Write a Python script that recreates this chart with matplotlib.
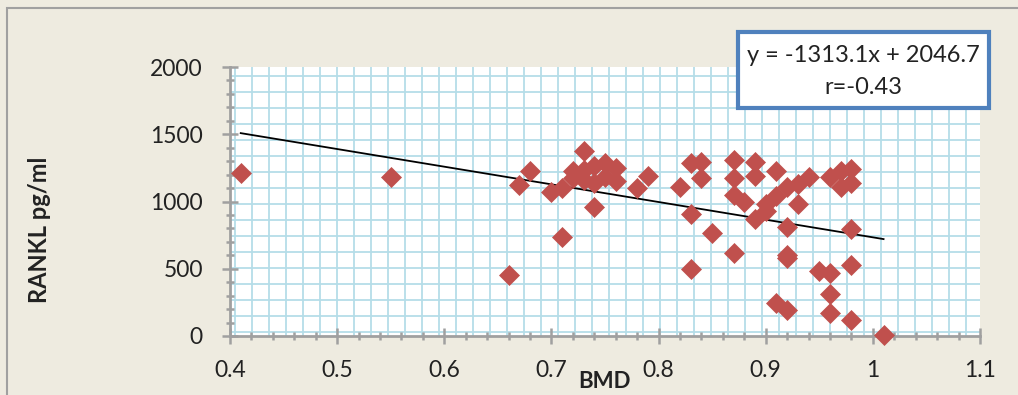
import numpy as np
import matplotlib.pyplot as plt
from matplotlib.patches import Rectangle
from matplotlib.ticker import MultipleLocator

# ================= 資料 =================
bmd = [0.41, 0.55, 0.66, 0.67, 0.68, 0.70, 0.71, 0.71, 0.72, 0.72,
       0.73, 0.73, 0.73, 0.74, 0.74, 0.74, 0.75, 0.75, 0.76, 0.76,
       0.78, 0.79, 0.82, 0.83, 0.83, 0.83, 0.84, 0.84, 0.85, 0.87,
       0.87, 0.87, 0.87, 0.88, 0.89, 0.89, 0.89, 0.90, 0.90, 0.91,
       0.91, 0.91, 0.92, 0.92, 0.92, 0.92, 0.92, 0.93, 0.93, 0.94,
       0.95, 0.96, 0.96, 0.96, 0.96, 0.97, 0.97, 0.98, 0.98, 0.98,
       0.98, 0.98, 1.01]
rankl = [1210, 1180, 450, 1120, 1230, 1070, 1100, 735, 1225, 1175,
         1375, 1235, 1160, 1265, 1135, 960, 1285, 1185, 1250, 1150,
         1100, 1190, 1105, 1285, 905, 500, 1290, 1175, 765, 1305,
         1175, 1045, 615, 995, 1295, 1190, 870, 930, 985, 1225,
         1040, 245, 1110, 810, 580, 600, 195, 1130, 980, 1185,
         485, 1185, 465, 315, 170, 1230, 1110, 1245, 1140, 795,
         525, 120, 10]

slope, intercept = -1313.1, 2046.7
fit_x = [0.41, 1.01]
eq_text = "y = -1313.1x + 2046.7"
r_text = "r=-0.43"

plt.rcParams['font.family'] = ['Lato', 'DejaVu Sans']

W, H = 1018, 395
fig = plt.figure(figsize=(W / 100, H / 100), dpi=100)
fig.patch.set_facecolor('#EEEBE0')
fig.patches.append(Rectangle((7 / W, -0.1), 1.2, (395 - 8) / H + 0.1,
                             transform=fig.transFigure, fill=False,
                             edgecolor='#A0A0A0', linewidth=1.5))

pos = [230 / W, (H - 336) / H, 750 / W, 269 / H]

# 背景方格 (像 Excel 的圖案填滿)
bg = fig.add_axes(pos, zorder=0)
bg.set_facecolor('white')
bg.set_xlim(0, 750)
bg.set_ylim(0, 269)
bg.set_xticks(np.arange(5, 750, 17))
bg.set_yticks(np.arange(4, 269, 16))
bg.grid(True, color='#B5DDE8', linewidth=1.3)
bg.tick_params(length=0, labelbottom=False, labelleft=False)
for s in bg.spines.values():
    s.set_visible(False)

ax = fig.add_axes(pos, zorder=1)
ax.patch.set_alpha(0)
ax.set_xlim(0.4, 1.1)
ax.set_ylim(0, 2000)
ax.xaxis.set_major_locator(MultipleLocator(0.1))
ax.xaxis.set_minor_locator(MultipleLocator(0.02))
ax.yaxis.set_major_locator(MultipleLocator(500))
ax.yaxis.set_minor_locator(MultipleLocator(100))
ax.set_xticklabels([f"{v:g}" for v in ax.get_xticks()])

ax.plot(bmd, rankl, linestyle='none', marker='D', markersize=10,
        color='#C0504D', markeredgecolor='#C0504D', markeredgewidth=0.5,
        zorder=3, clip_on=False)
fx = np.array(fit_x)
ax.plot(fx, slope * fx + intercept, color='black', linewidth=1.3, zorder=2)

for side in ['top', 'right']:
    ax.spines[side].set_visible(False)
for side in ['left', 'bottom']:
    ax.spines[side].set_color('#A0A0A0')
    ax.spines[side].set_linewidth(2)

ax.tick_params(which='major', direction='inout', length=11, width=1.8,
               color='#A0A0A0', labelsize=16.5, labelcolor='#222222')
ax.tick_params(which='minor', direction='inout', length=6, width=1.8,
               color='#A0A0A0')
ax.tick_params(axis='x', which='major', pad=12)
ax.tick_params(axis='y', which='major', pad=14)

fig.text(40 / W, 1 - 230 / H, "RANKL pg/ml", rotation=90, fontsize=17,
         fontweight='bold', ha='center', va='center', color='#222222')
fig.text(605 / W, 1 - 382 / H, "BMD", fontsize=16, fontweight='bold',
         ha='center', va='center', color='#222222')

# 方程式框
fig.patches.append(Rectangle((738 / W, 1 - 108 / H), 251 / W, 76 / H,
                             transform=fig.transFigure, facecolor='white',
                             edgecolor='#4F81BD', linewidth=3, zorder=5))
fig.text(863 / W, 1 - 56 / H, eq_text, fontsize=17, ha='center',
         va='center', color='#222222', zorder=6)
fig.text(863 / W, 1 - 88 / H, r_text, fontsize=17, ha='center',
         va='center', color='#222222', zorder=6)

fig.savefig("out.png", dpi=100, facecolor=fig.get_facecolor())
